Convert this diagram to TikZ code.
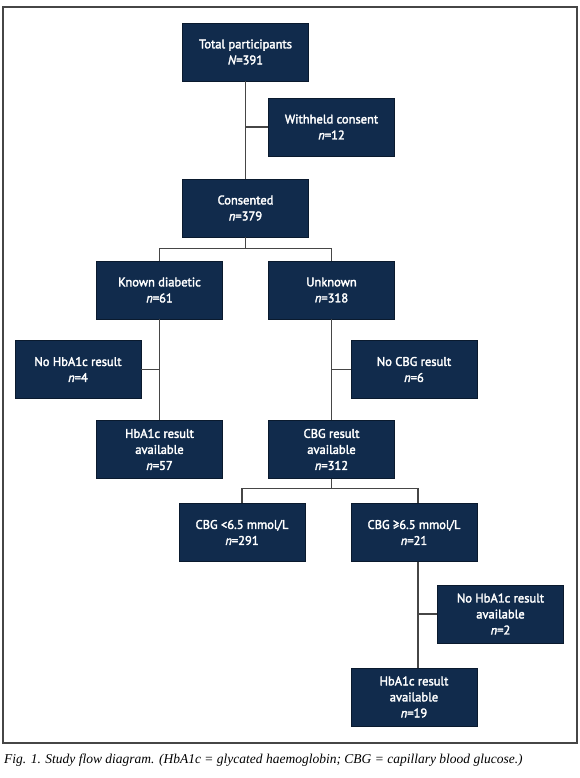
\documentclass[tikz,border=0pt]{standalone}
\usepackage{fontspec}
\setmainfont{Liberation Serif}
\newfontfamily\boxfont[FakeBold=2.5]{PT Sans}
\usepackage{tikz}
\usetikzlibrary{calc}
\usetikzlibrary{positioning}

\definecolor{navy}{RGB}{17,43,76}
\definecolor{rule}{RGB}{70,70,70}

\begin{document}
\begin{tikzpicture}[x=1pt,y=-1pt,
    stagebox/.style={fill=navy, text=white, draw=navy!60!black, line width=0.6pt,
        minimum width=126, minimum height=58, inner sep=2pt, align=center,
        font=\boxfont\fontsize{12.5}{16}\selectfont},
    link/.style={draw=rule, line width=1.3pt}]
            \def\off{4}
            \useasboundingbox (0,0) rectangle (580,778);
            \draw[rule, line width=1.5pt] (3,7) rectangle (577,743);

            % Top trunk
            \node[stagebox] (total) at (245.5,52) {Total participants\\\textit{N}=391};
            \node[stagebox] (withheld) at (331.5,127) {Withheld consent\\\textit{n}=12};
            \node[stagebox] (consented) at (245.5,208) {Consented\\\textit{n}=379};
            \draw[link] (total) -- (consented);
            \draw[link] (withheld.west) -- (withheld.west -| total);

            % First split
            \node[stagebox] (known) at (159.5,290) {Known diabetic\\\textit{n}=61};
            \node[stagebox] (unknown) at (331.5,290) {Unknown\\\textit{n}=318};
            \coordinate (split1) at ($(consented.south) + (0,11)$);
            \draw[link] (consented) -- (split1);
            \draw[link] (split1) -| (known);
            \draw[link] (split1) -| (unknown);

            % Left branch
            \node[stagebox] (nohba) at (78,369.5) {No HbA1c result\\\textit{n}=4};
            \node[stagebox] (hbaknown) at (159.5,449.5) {HbA1c result\\available\\\textit{n}=57};
            \draw[link] (known) -- (hbaknown);
            \draw[link] (nohba.east) -- (nohba.east -| known);

            % Right branch
            \node[stagebox] (nocbg) at (414,369.5) {No CBG result\\\textit{n}=6};
            \node[stagebox] (cbgavail) at (331.5,449.5) {CBG result\\available\\\textit{n}=312};
            \draw[link] (unknown) -- (cbgavail);
            \draw[link] (nocbg.west) -- (nocbg.west -| unknown);

            % Second split
            \node[stagebox] (cbglow) at (242,532.5) {CBG <6.5 mmol/L\\\textit{n}=291};
            \node[stagebox] (cbghigh) at (414,532.5) {CBG ≥6.5 mmol/L\\\textit{n}=21};
            \coordinate (split2) at ($(cbgavail.south) + (0,10)$);
            \draw[link] (cbgavail) -- (split2);
            \draw[link] (split2) -| (cbglow);
            \draw[link] (split2) -| ($(cbghigh.north) + (\off,0)$);

            % Bottom
            \node[stagebox] (nohbahigh) at (500.5,614) {No HbA1c result\\available\\\textit{n}=2};
            \node[stagebox] (hbahigh) at (414,697) {HbA1c result\\available\\\textit{n}=19};
            \draw[link] ($(cbghigh.south) + (\off,0)$) -- ($(hbahigh.north) + (\off,0)$);
            \draw[link] (nohbahigh.west) -- ($(nohbahigh.west -| cbghigh) + (\off,0)$);

            % Caption
            \node[anchor=west, inner sep=0pt, font=\itshape\fontsize{13.5}{16}\selectfont] (caption) at (4,760)
                {Fig. 1. Study flow diagram. (HbA1c = glycated haemoglobin; CBG = capillary blood glucose.)};
        \end{tikzpicture}
\end{document}
